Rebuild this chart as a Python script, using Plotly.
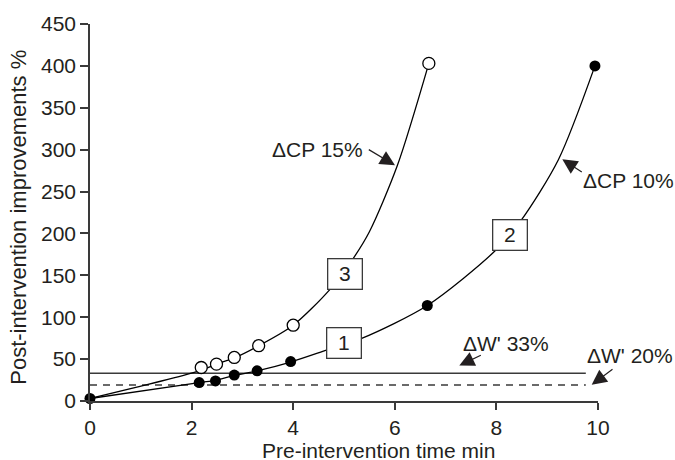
import plotly.graph_objects as go

# ---- data ----
# filled circles (curve 1 -> 2, ΔCP 10%)
filled_x = [0, 2.15, 2.47, 2.84, 3.29, 3.95, 6.64, 9.94]
filled_y = [3, 22, 24, 31, 36, 47, 114, 400]
# open circles (curve 3, ΔCP 15%)
open_x = [2.19, 2.49, 2.84, 3.32, 4.0, 6.67]
open_y = [40, 44, 52, 66, 90.5, 403]

# fitted curves as traced on the picture
fit10_x = [0, 2.15, 2.47, 2.84, 3.29, 3.95, 4.67, 5.36, 6.64, 7.97, 8.49, 9.22, 9.94]
fit10_y = [3, 22, 24.5, 30.5, 36, 46.5, 61, 75, 114, 179, 216, 288, 400]
fit15_x = [0, 2.1, 2.49, 2.84, 3.32, 4.0, 4.72, 5.18, 5.5, 6.05, 6.67]
fit15_y = [3, 35, 44, 51.5, 66, 90.5, 133, 170, 202, 281, 403]

# horizontal reference lines (ΔW')
w33_x = [0, 9.76]
w33_y = [33, 33]
w20_x = [0, 9.76]
w20_y = [19, 19]

x_ticks = [0, 2, 4, 6, 8, 10]
y_ticks = [0, 50, 100, 150, 200, 250, 300, 350, 400, 450]

FONT = "Liberation Sans, Arial, sans-serif"
TXT = "#231f20"
AX = "#3a3a3a"

L, R, T, B = 90, 77, 21, 59
W, H = 675, 460
pw, ph = W - L - R, H - T - B


def px2paper(px, py):
    return (px - L) / pw, (H - B - py) / ph


fig = go.Figure()

fig.add_trace(go.Scatter(x=w33_x, y=w33_y, mode="lines",
                         line=dict(color=AX, width=1.5), cliponaxis=False))
fig.add_trace(go.Scatter(x=w20_x, y=w20_y, mode="lines",
                         line=dict(color=AX, width=1.5, dash="7px,6px"), cliponaxis=False))

fig.add_trace(go.Scatter(x=fit15_x, y=fit15_y, mode="lines",
                         line=dict(color="black", width=1.3, shape="spline", smoothing=0.8),
                         cliponaxis=False))
fig.add_trace(go.Scatter(x=fit10_x, y=fit10_y, mode="lines",
                         line=dict(color="black", width=1.3, shape="spline", smoothing=0.8),
                         cliponaxis=False))

fig.add_trace(go.Scatter(x=open_x, y=open_y, mode="markers",
                         marker=dict(size=12, color="white", line=dict(color="black", width=1.3)),
                         cliponaxis=False))
fig.add_trace(go.Scatter(x=filled_x, y=filled_y, mode="markers",
                         marker=dict(size=11, color="black", line=dict(color="black", width=0)),
                         cliponaxis=False))

annotations = []
tfont = dict(family=FONT, size=21, color=TXT)

# boxed curve labels
for label, bx, by in [("1", 5.0, 69), ("2", 8.27, 198), ("3", 5.02, 152)]:
    annotations.append(dict(x=bx, y=by, xref="x", yref="y", text=label, showarrow=False,
                            xanchor="center", yanchor="middle", font=tfont,
                            bgcolor="white", bordercolor=AX, borderwidth=1.3,
                            borderpad=1, width=31, height=27))

# arrows (tip in data coords, tail offset in pixels)
for tx, ty, ax, ay in [(6.004, 281.3, -27.7, -16.6),
                       (9.297, 288.5, 21.0, 13.7),
                       (7.27, 42.3, 23.0, -11.0),
                       (9.876, 19.4, 22.3, -16.6)]:
    annotations.append(dict(x=tx, y=ty, xref="x", yref="y", text="", showarrow=True,
                            ax=ax, ay=ay, axref="pixel", ayref="pixel",
                            arrowhead=2, arrowsize=2.5, arrowwidth=1.2, arrowcolor=TXT,
                            standoff=0, startstandoff=0))

# arrow labels (pixel positions of the label centres)
for text, px, py in [("ΔCP 15%", 317.8, 147.0),
                     ("ΔW' 33%", 506.3, 343.5),
                     ("ΔCP 10%", 628.5, 178.5),
                     ("ΔW' 20%", 630.0, 355.5)]:
    xp, yp = px2paper(px, py)
    annotations.append(dict(x=xp, y=yp, xref="paper", yref="paper", text=text, showarrow=False,
                            xanchor="center", yanchor="middle", font=tfont))

# axis titles
xp, yp = px2paper(378, 450)
annotations.append(dict(x=xp, y=yp, xref="paper", yref="paper", text="Pre-intervention time min",
                        showarrow=False, xanchor="center", yanchor="middle", height=18,
                        font=tfont))
xp, yp = px2paper(18.3, 216)
annotations.append(dict(x=xp, y=yp, xref="paper", yref="paper", text="Post-intervention improvements %",
                        showarrow=False, textangle=-90, xanchor="center", yanchor="middle",
                        font=dict(family=FONT, size=22, color=TXT)))

fig.update_layout(
    width=W, height=H,
    margin=dict(l=L, r=R, t=T, b=B),
    paper_bgcolor="white", plot_bgcolor="white",
    showlegend=False,
    font=tfont,
    annotations=annotations,
    xaxis=dict(range=[0, 10], tickvals=x_ticks, showline=True, linecolor=AX, linewidth=1.5,
               ticks="outside", ticklen=7, tickwidth=1.5, tickcolor=AX,
               showgrid=False, zeroline=False, fixedrange=True, tickfont=tfont),
    yaxis=dict(range=[0, 450], tickvals=y_ticks, showline=True, linecolor=AX, linewidth=1.5,
               ticks="outside", ticklen=8, tickwidth=1.5, tickcolor=AX,
               showgrid=False, zeroline=False, fixedrange=True, tickfont=tfont),
)

fig.write_html("out.html")
